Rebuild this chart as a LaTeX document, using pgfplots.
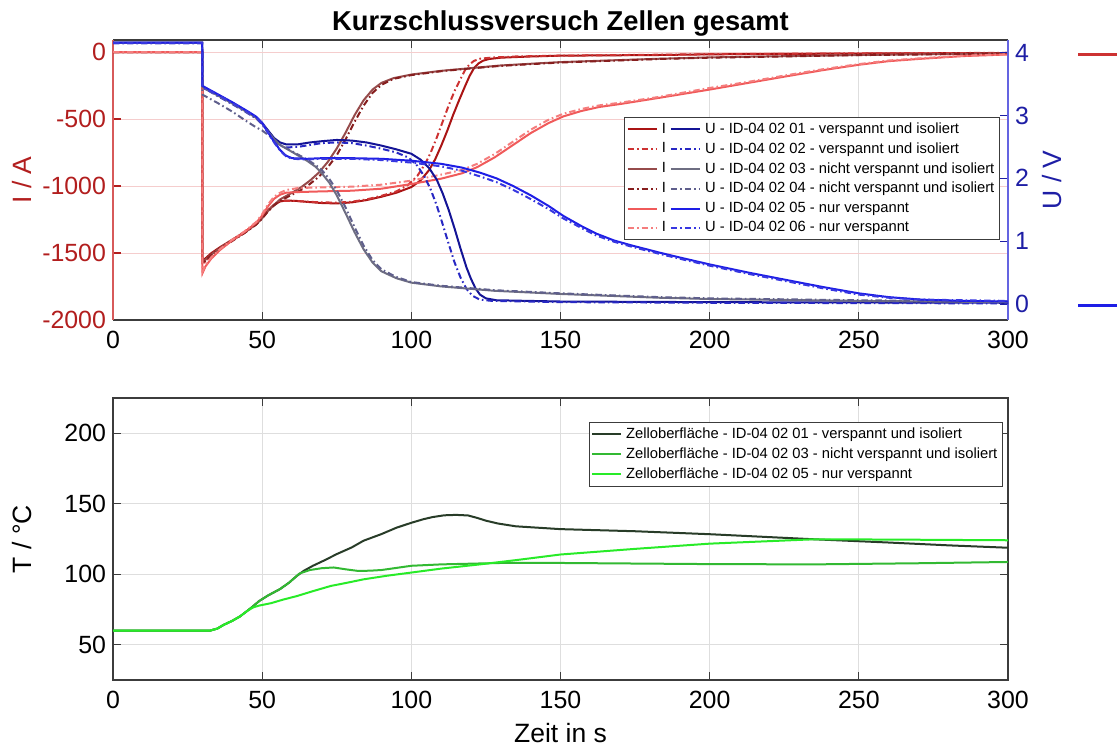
\documentclass[border=0pt]{standalone}
\usepackage{fontspec}
\setmainfont{Liberation Sans}
\usepackage{pgfplots}
\pgfplotsset{compat=1.18}

\definecolor{axred}{RGB}{215,90,90}
\definecolor{labred}{RGB}{178,30,30}
\definecolor{axblue}{RGB}{100,100,225}
\definecolor{labblue}{RGB}{30,30,165}
\definecolor{axgray}{RGB}{60,60,60}
\definecolor{gridgray}{RGB}{222,222,222}
\definecolor{gridpink}{RGB}{245,205,205}
\definecolor{rI1}{RGB}{170,20,20}
\definecolor{rI2}{RGB}{205,50,50}
\definecolor{rI3}{RGB}{150,75,75}
\definecolor{rI4}{RGB}{135,30,30}
\definecolor{rI5}{RGB}{240,90,90}
\definecolor{rI6}{RGB}{245,125,125}
\definecolor{bU1}{RGB}{20,20,150}
\definecolor{bU2}{RGB}{40,40,195}
\definecolor{bU3}{RGB}{110,110,130}
\definecolor{bU4}{RGB}{95,95,140}
\definecolor{bU5}{RGB}{30,30,230}
\definecolor{bU6}{RGB}{55,55,225}
\definecolor{gT1}{RGB}{40,60,40}
\definecolor{gT3}{RGB}{50,185,50}
\definecolor{gT5}{RGB}{40,235,40}

\pgfplotsset{
  every axis/.append style={
    scale only axis,
    /pgf/number format/assume math mode=true,
    /pgf/number format/1000 sep={},
    tick label style={font=\fontsize{12.5}{14}\selectfont},
    xticklabel style={yshift=-2bp},
    label style={font=\fontsize{13.3}{15}\selectfont},
    tick align=inside,
    major tick length=4bp,
  },
  dd/.style={dash pattern=on 3.2bp off 1.5bp on 0.8bp off 1.5bp},
  dl/.style={line width=1bp},
}

\begin{document}
\begin{tikzpicture}
\path[use as bounding box] (0,0) rectangle (558.5bp,374.5bp);

% ---------- top: current ----------
\begin{axis}[
  at={(56.5bp,214.5bp)}, anchor=south west,
  width=447.5bp, height=140bp,
  xmin=0, xmax=300, ymin=-2000, ymax=90,
  xtick={0,50,...,300}, ytick={-2000,-1500,-1000,-500,0},
  separate axis lines, axis x line*=box, axis y line*=left,
  x axis line style={draw=axgray, line width=0.6bp},
  y axis line style={draw=axred, line width=0.6bp},
  xtick style={draw=axgray, line width=0.6bp},
  ytick style={draw=labred, line width=0.6bp},
  xmajorgrids, ymajorgrids,
  x grid style={draw=gridgray, line width=0.5bp},
  y grid style={draw=gridpink, line width=0.5bp},
  yticklabel style={text=labred},
  ylabel={I / A},
  ylabel style={text=labred, at={(axis description cs:-0.1017,0.5)}, anchor=center},
  title={\textbf{Kurzschlussversuch Zellen gesamt}},
  title style={font=\fontsize{13.7}{15}\selectfont, at={(axis description cs:0.5,1)}, anchor=base, yshift=-1bp},
  clip=true,
]
% I 01
\addplot[rI1, dl] coordinates {(0,0)(29.9,0)(30,-1560)(31,-1540)(33,-1500)(36,-1455)(40,-1400)(44,-1345)(48,-1280)(50,-1235)(52,-1180)(54,-1140)(56,-1115)(58,-1108)(62,-1112)(66,-1120)(70,-1127)(75,-1130)(80,-1122)(85,-1105)(90,-1080)(95,-1050)(100,-1008)(103,-960)(106,-880)(108,-800)(110,-700)(112,-590)(114,-470)(116,-360)(118,-255)(119.5,-180)(121,-120)(122.5,-85)(124,-65)(126,-52)(130,-42)(140,-33)(150,-27)(183,-22)(200,-17)(250,-11)(300,-7)};
% I 02
\addplot[rI2, dl, dd] coordinates {(0,0)(29.9,0)(30,-1585)(31,-1560)(33,-1515)(36,-1465)(40,-1405)(44,-1350)(48,-1285)(50,-1240)(52,-1185)(54,-1140)(56,-1112)(60,-1110)(65,-1117)(70,-1122)(75,-1124)(80,-1117)(85,-1100)(90,-1073)(95,-1040)(99,-990)(102,-925)(104.5,-840)(106.5,-750)(108.5,-640)(110.5,-520)(112.5,-400)(114.5,-290)(116.5,-200)(118,-135)(119.5,-92)(121,-66)(123,-50)(127,-41)(135,-33)(150,-27)(200,-16)(250,-10)(300,-6)};
% I 03
\addplot[rI3, dl] coordinates {(0,0)(29.9,0)(30,-1570)(33,-1510)(36,-1460)(40,-1405)(44,-1350)(48,-1285)(50,-1240)(52,-1185)(54,-1140)(56,-1100)(58,-1075)(60,-1050)(63,-1010)(66,-960)(69,-900)(72,-820)(75,-720)(78,-600)(81,-470)(84,-360)(87,-280)(90,-230)(94,-195)(100,-168)(110,-140)(120,-120)(130,-100)(150,-75)(183,-50)(200,-40)(250,-22)(300,-10)};
% I 04
\addplot[rI4, dl, dd] coordinates {(0,0)(29.9,0)(30,-1580)(33,-1515)(36,-1465)(40,-1410)(44,-1352)(48,-1288)(50,-1242)(52,-1188)(54,-1145)(56,-1110)(60,-1065)(63,-1030)(66,-985)(69,-930)(72,-860)(75,-770)(78,-650)(81,-520)(84,-400)(87,-305)(90,-245)(94,-200)(100,-172)(110,-143)(120,-122)(130,-103)(150,-78)(183,-52)(200,-42)(250,-23)(300,-11)};
% I 05
\addplot[rI5, dl] coordinates {(0,0)(29.9,0)(30,-1650)(31,-1600)(33,-1540)(36,-1475)(40,-1405)(44,-1345)(48,-1275)(50,-1220)(52,-1150)(54,-1095)(56,-1065)(58,-1050)(62,-1045)(70,-1040)(80,-1035)(90,-1020)(100,-985)(110,-945)(117,-905)(122,-860)(128,-785)(134,-695)(140,-605)(146,-530)(151,-480)(157,-440)(163,-410)(170,-388)(183,-342)(200,-280)(213,-230)(226,-180)(238,-135)(250,-95)(260,-68)(271,-50)(285,-30)(300,-18)};
% I 06
\addplot[rI6, dl, dd] coordinates {(0,0)(29.9,0)(30,-1640)(31,-1590)(33,-1530)(36,-1468)(40,-1400)(44,-1340)(48,-1268)(50,-1210)(52,-1135)(54,-1080)(56,-1050)(58,-1030)(62,-1015)(70,-1010)(80,-1005)(90,-990)(100,-960)(110,-915)(117,-880)(122,-835)(128,-760)(134,-670)(140,-580)(146,-505)(151,-460)(157,-425)(163,-398)(170,-378)(183,-335)(200,-268)(213,-222)(226,-172)(238,-128)(250,-90)(260,-63)(271,-46)(285,-28)(300,-17)};
\end{axis}

% ---------- top: voltage ----------
\begin{axis}[
  at={(56.5bp,214.5bp)}, anchor=south west,
  width=447.5bp, height=140bp,
  xmin=0, xmax=300, ymin=-0.254, ymax=4.2,
  ytick={0,1,2,3,4},
  axis x line=none, axis y line*=right,
  y axis line style={draw=axblue, line width=0.6bp},
  ytick style={draw=labblue, line width=0.6bp},
  yticklabel style={text=labblue},
  ylabel={U / V},
  ylabel style={text=labblue, at={(axis description cs:1.049,0.5)}, anchor=center},
  legend columns=2,
  legend cell align=left,
  legend image code/.code={\draw[#1] (0bp,0bp) -- (14.5bp,0bp);},
  legend style={at={(axis description cs:0.991,0.725)}, anchor=north east,
    font=\fontsize{7.4}{8.6}\selectfont, draw=axgray, line width=0.5bp,
    fill=white, inner sep=1bp, row sep=0pt, column sep=0.5bp,
    nodes={inner sep=1.55bp}},
]
\addlegendimage{rI1, dl}\addlegendentry{I}
\addplot[bU1, dl] coordinates {(0,4.16)(29.9,4.16)(30,3.47)(31,3.42)(35,3.33)(40,3.2)(45,3.06)(48,2.97)(50,2.88)(52,2.76)(54,2.64)(56,2.57)(58,2.54)(62,2.54)(66,2.57)(70,2.59)(75,2.61)(80,2.60)(85,2.57)(90,2.52)(95,2.46)(100,2.39)(103,2.30)(106,2.16)(108.5,1.98)(110.5,1.76)(112.5,1.50)(114.5,1.20)(116.5,0.88)(118.5,0.58)(120,0.40)(121.5,0.25)(123,0.15)(125,0.09)(128.5,0.06)(150,0.04)(200,0.03)(300,0.02)};
\addlegendentry{U - ID-04 02 01 - verspannt und isoliert}
\addlegendimage{rI2, dl, dd}\addlegendentry{I}
\addplot[bU2, dl, dd] coordinates {(0,4.15)(29.9,4.15)(30,3.45)(35,3.31)(40,3.18)(45,3.04)(48,2.95)(50,2.86)(52,2.73)(54,2.6)(56,2.52)(58,2.49)(62,2.5)(66,2.53)(70,2.56)(75,2.57)(80,2.56)(85,2.52)(90,2.47)(95,2.41)(99,2.33)(102,2.20)(104.5,2.02)(106.5,1.82)(108.5,1.57)(110.5,1.27)(112.5,0.96)(114.5,0.66)(116.5,0.42)(118.5,0.24)(120.5,0.13)(123,0.07)(127,0.05)(150,0.03)(200,0.02)(300,0.01)};
\addlegendentry{U - ID-04 02 02 - verspannt und isoliert}
\addlegendimage{rI3, dl}\addlegendentry{I}
\addplot[bU3, dl] coordinates {(0,4.16)(29.9,4.16)(30,3.45)(35,3.32)(40,3.19)(45,3.05)(48,2.96)(50,2.87)(52,2.74)(54,2.62)(56,2.53)(60,2.42)(65,2.28)(68,2.18)(70,2.08)(72.5,1.93)(75,1.73)(78,1.44)(81,1.14)(84,0.87)(87,0.66)(90,0.52)(95,0.41)(100,0.34)(110,0.28)(128,0.21)(150,0.16)(183,0.10)(200,0.08)(250,0.05)(300,0.03)};
\addlegendentry{U - ID-04 02 03 - nicht verspannt und isoliert}
\addlegendimage{rI4, dl, dd}\addlegendentry{I}
\addplot[bU4, dl, dd] coordinates {(0,4.15)(29.9,4.15)(30,3.33)(35,3.2)(40,3.06)(45,2.9)(48,2.81)(50,2.76)(52,2.69)(54,2.61)(56,2.53)(60,2.43)(65,2.30)(68,2.21)(70,2.13)(72.5,1.99)(75,1.81)(78,1.53)(81,1.22)(84,0.93)(87,0.70)(90,0.55)(95,0.43)(100,0.35)(110,0.29)(128,0.22)(150,0.17)(183,0.11)(200,0.09)(250,0.06)(300,0.04)};
\addlegendentry{U - ID-04 02 04 - nicht verspannt und isoliert}
\addlegendimage{rI5, dl}\addlegendentry{I}
\addplot[bU5, dl] coordinates {(0,4.16)(29.9,4.16)(30,3.47)(35,3.34)(40,3.21)(45,3.07)(48,2.98)(50,2.88)(52,2.73)(54,2.58)(56,2.45)(58,2.36)(60,2.32)(65,2.31)(70,2.32)(80,2.32)(90,2.31)(100,2.28)(110,2.23)(117,2.17)(123,2.09)(128.5,2.0)(134,1.88)(140,1.73)(146,1.56)(151,1.40)(157,1.24)(162,1.12)(168,1.01)(174,0.93)(183,0.82)(190,0.74)(200,0.63)(213,0.50)(226,0.38)(238,0.27)(250,0.17)(260,0.11)(271,0.07)(285,0.05)(300,0.04)};
\addlegendentry{U - ID-04 02 05 - nur verspannt}
\addlegendimage{rI6, dl, dd}\addlegendentry{I}
\addplot[bU6, dl, dd] coordinates {(0,4.15)(29.9,4.15)(30,3.45)(35,3.33)(40,3.2)(45,3.06)(48,2.97)(50,2.87)(52,2.72)(54,2.57)(56,2.44)(58,2.35)(60,2.31)(65,2.30)(70,2.31)(80,2.31)(90,2.29)(100,2.25)(110,2.19)(117,2.12)(123,2.03)(128.5,1.94)(134,1.82)(140,1.67)(146,1.51)(151,1.36)(157,1.21)(162,1.09)(168,0.99)(174,0.91)(183,0.80)(190,0.72)(200,0.61)(213,0.48)(226,0.36)(238,0.25)(250,0.15)(260,0.10)(271,0.07)(285,0.06)(300,0.05)};
\addlegendentry{U - ID-04 02 06 - nur verspannt}
\end{axis}

% ---------- stray lines at the right edge ----------
\begin{axis}[
  at={(539bp,214.5bp)}, anchor=south west,
  width=19.5bp, height=140bp,
  xmin=0, xmax=1, ymin=-0.254, ymax=4.2, hide axis,
]
\addplot[rI2, line width=1.5bp] coordinates {(0,3.97)(1,3.97)};
\addplot[bU5, line width=1.5bp] coordinates {(0,-0.02)(1,-0.02)};
\end{axis}

% ---------- bottom: temperature ----------
\begin{axis}[
  at={(56.5bp,34.5bp)}, anchor=south west,
  width=447.5bp, height=141bp,
  xmin=0, xmax=300, ymin=25, ymax=225,
  xtick={0,50,...,300}, ytick={50,100,150,200},
  axis line style={draw=axgray, line width=0.6bp},
  tick style={draw=axgray, line width=0.6bp},
  xmajorgrids, ymajorgrids,
  grid style={draw=gridgray, line width=0.5bp},
  ylabel={T / \textdegree C},
  ylabel style={at={(axis description cs:-0.1017,0.5)}, anchor=center},
  xlabel={Zeit in s},
  xlabel style={at={(axis description cs:0.5,-0.188)}, anchor=center},
  legend cell align=left,
  legend image code/.code={\draw[#1] (0bp,0bp) -- (14.5bp,0bp);},
  legend style={at={(axis description cs:0.9944,0.915)}, anchor=north east,
    font=\fontsize{7.4}{8.6}\selectfont, draw=axgray, line width=0.5bp,
    fill=white, inner sep=1bp, row sep=0pt, column sep=0.5bp,
    nodes={inner sep=1.55bp}},
]
\addplot[gT1, dl] coordinates {(0,60)(32.5,60)(35,61.5)(37,64)(40,67)(42.5,70)(45,74)(47,77.4)(49,81)(52,85)(56,89.5)(59,94)(61.6,98.8)(64,102.5)(67,106)(71,110)(75,114.3)(80,119)(84,123.8)(90,128.5)(95,133)(100,136.5)(104,139)(107,140.5)(111,141.8)(115,142.1)(119,141.7)(122,140)(125,138)(129,136)(135,134)(150,132)(175,130.5)(200,128.4)(235,124.8)(260,122.5)(280,120.5)(300,118.8)};
\addlegendentry{Zelloberfläche - ID-04 02 01 - verspannt und isoliert}
\addplot[gT3, dl] coordinates {(0,60)(32.5,60)(35,61.5)(37,64)(40,67)(42.5,70)(45,74)(47,77.4)(49,81)(52,85)(56,89.5)(59,94)(62.5,100.5)(66,103)(70,104.3)(74,104.8)(78,103.5)(82,102.4)(86,102.5)(90,103)(95,104.5)(100,106)(110,107)(130,108)(150,108)(200,107.2)(235,107)(270,107.8)(300,108.7)};
\addlegendentry{Zelloberfläche - ID-04 02 03 - nicht verspannt und isoliert}
\addplot[gT5, dl] coordinates {(0,60)(32.5,60)(35,61.5)(37,64)(40,67)(42.5,70)(45,74)(47,76.5)(49,77.8)(53,79.5)(57,82)(61.6,84.5)(67,88)(73,91.7)(79,94.2)(84,96.4)(92,99)(100,101.2)(110,104)(123,107)(135,110)(150,114)(175,118)(200,121.7)(235,124.8)(260,124.6)(300,124.1)};
\addlegendentry{Zelloberfläche - ID-04 02 05 - nur verspannt}
\end{axis}
\end{tikzpicture}
\end{document}
